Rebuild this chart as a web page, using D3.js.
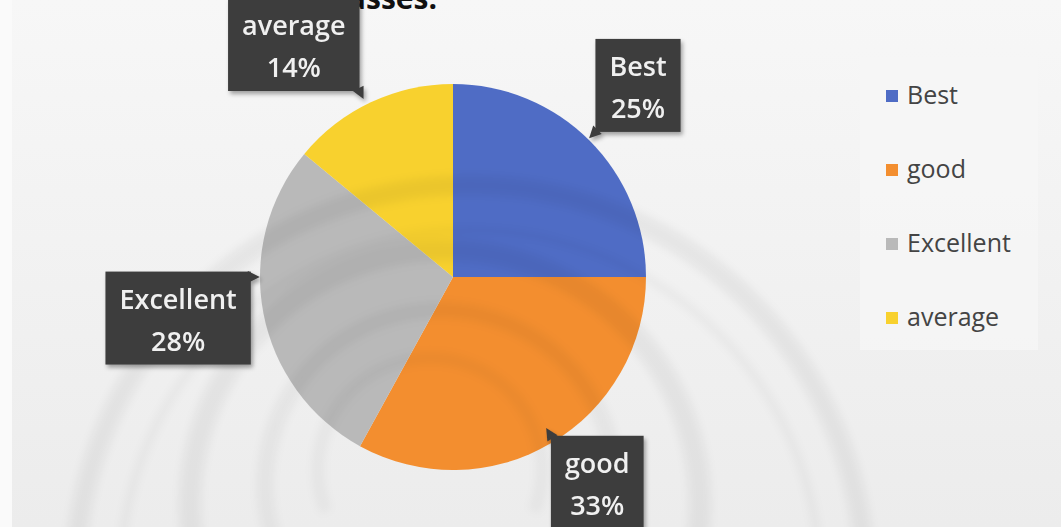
<!DOCTYPE html>
<html>
<head>
<meta charset="utf-8">
<script src="https://cdn.jsdelivr.net/npm/d3@7"></script>
<style>
  html, body { margin: 0; padding: 0; background: #f0f0f0; }
  svg { display: block; }
</style>
</head>
<body>
<svg id="chart" width="1061" height="527"></svg>
<script>
// ---- data ----
const categories = ["Best", "good", "Excellent", "average"];
const values = [25, 33, 28, 14];
const colors = ["#4f6cc5", "#f38e2f", "#b9b9b9", "#f8d12e"];
const titleText = "Classes.";

// ---- layout ----
const W = 1061, H = 527;
const cx = 453, cy = 277, R = 193;
// per-label placement tweaks (radius factor, angle shift in degrees)
const labelPlace = {
  "Best":      { r: 1.38, da: -1 },
  "good":      { r: 1.30, da: -4.5 },
  "Excellent": { r: 1.44, da: 2.3 },
  "average":   { r: 1.46, da: -9.2 }
};
const FONT = "'Open Sans', 'Noto Sans', sans-serif";

const svg = d3.select("#chart");
const defs = svg.append("defs");

const bg = defs.append("linearGradient").attr("id", "bg").attr("x1", 0).attr("y1", 0).attr("x2", 0).attr("y2", 1);
bg.append("stop").attr("offset", "0%").attr("stop-color", "#f7f7f7");
bg.append("stop").attr("offset", "100%").attr("stop-color", "#ececec");

const sh = defs.append("filter").attr("id", "shadow").attr("x", "-20%").attr("y", "-20%").attr("width", "150%").attr("height", "150%");
sh.append("feDropShadow").attr("dx", 2).attr("dy", 3).attr("stdDeviation", 2).attr("flood-color", "#000").attr("flood-opacity", 0.35);

const blur = defs.append("filter").attr("id", "blur");
blur.append("feGaussianBlur").attr("stdDeviation", 4);

// background
svg.append("rect").attr("width", W).attr("height", H).attr("fill", "url(#bg)");
svg.append("rect").attr("x", 0).attr("y", 0).attr("width", 12).attr("height", H).attr("fill", "#fafafa");

// legend panel (faint)
svg.append("rect").attr("x", 860).attr("y", 58).attr("width", 178).attr("height", 292)
  .attr("fill", "#f7f7f7").attr("opacity", 0.7);

// title (mostly cropped at the top, as in the reference)
svg.append("text").attr("x", 437).attr("y", 9).attr("text-anchor", "end")
  .attr("font-family", FONT).attr("font-weight", "bold")
  .attr("font-size", 30).attr("fill", "#111").text(titleText);

// pie
const pie = d3.pie().sort(null).value(d => d.value);
const data = categories.map((c, i) => ({ name: c, value: values[i], color: colors[i] }));
const arcs = pie(data);
const total = d3.sum(values);
const arcGen = d3.arc().innerRadius(0).outerRadius(R);

const g = svg.append("g").attr("transform", `translate(${cx},${cy})`);
g.selectAll("path.slice").data(arcs).join("path")
  .attr("class", "slice")
  .attr("d", arcGen)
  .attr("fill", d => d.data.color);

// watermark arcs (faint)
const wm = svg.append("g").attr("filter", "url(#blur)");
const wmArcs = [
  { x: 470, y: 580, r: 395, w: 20, o: 0.05 },
  { x: 470, y: 580, r: 350, w: 8, o: 0.035 },
  { x: 445, y: 505, r: 255, w: 22, o: 0.05 },
  { x: 440, y: 485, r: 175, w: 16, o: 0.045 },
  { x: 430, y: 470, r: 112, w: 12, o: 0.035 }
];
wmArcs.forEach(a => {
  const p = d3.arc().innerRadius(a.r - a.w / 2).outerRadius(a.r + a.w / 2)
    .startAngle(-Math.PI * 0.62).endAngle(Math.PI * 0.62);
  wm.append("path").attr("transform", `translate(${a.x},${a.y})`).attr("d", p())
    .attr("fill", "#000").attr("opacity", a.o);
});

// data labels (callouts)
const fmt = v => Math.round(v / total * 100) + "%";
const lblG = svg.append("g");
const fontSize = 27, lineGap = 42, padX = 14, boxH = 93;
arcs.forEach(d => {
  const pl = labelPlace[d.data.name];
  const mid = (d.startAngle + d.endAngle) / 2 + pl.da * Math.PI / 180;
  const lr = R * pl.r;
  const lx = cx + lr * Math.sin(mid), ly = cy - lr * Math.cos(mid);
  const grp = lblG.append("g").attr("filter", "url(#shadow)");
  const box = grp.append("rect").attr("fill", "#3d3d3d");
  const wedge = grp.append("path").attr("fill", "#3d3d3d");
  const t1 = grp.append("text").attr("x", lx).attr("y", ly - 9)
    .attr("text-anchor", "middle").attr("font-family", FONT)
    .attr("font-weight", 600)
    .attr("font-size", fontSize).attr("fill", "#f0f0f0").text(d.data.name);
  const t2 = grp.append("text").attr("x", lx).attr("y", ly - 9 + lineGap)
    .attr("text-anchor", "middle").attr("font-family", FONT)
    .attr("font-weight", 600)
    .attr("font-size", fontSize).attr("fill", "#f0f0f0").text(fmt(d.data.value));
  const tw = Math.max(t1.node().getComputedTextLength(), t2.node().getComputedTextLength());
  const bw = tw + padX * 2;
  const bx = lx - bw / 2, by = ly - boxH / 2;
  box.attr("x", bx).attr("y", by).attr("width", bw).attr("height", boxH);
  // small wedge toward the pie
  const px = Math.max(bx, Math.min(bx + bw, cx));
  const py = Math.max(by, Math.min(by + boxH, cy));
  let ux = cx - px, uy = cy - py;
  const ul = Math.hypot(ux, uy); ux /= ul; uy /= ul;
  const vx = -uy, vy = ux;
  const tip = [px + ux * 9, py + uy * 9];
  const a = [px + vx * 6 - ux * 3, py + vy * 6 - uy * 3];
  const b = [px - vx * 6 - ux * 3, py - vy * 6 - uy * 3];
  wedge.attr("d", `M${a[0]},${a[1]}L${tip[0]},${tip[1]}L${b[0]},${b[1]}Z`);
});

// legend
const leg = svg.append("g").attr("transform", "translate(886,96)");
const legStep = 74;
const li = leg.selectAll("g").data(data).join("g")
  .attr("transform", (d, i) => `translate(0,${i * legStep})`);
li.append("rect").attr("x", 0).attr("y", -6).attr("width", 12).attr("height", 12).attr("fill", d => d.color);
li.append("text").attr("x", 21).attr("y", 8)
  .attr("font-family", FONT).attr("font-size", 25)
  .attr("fill", "#444").text(d => d.name);
</script>
</body>
</html>
